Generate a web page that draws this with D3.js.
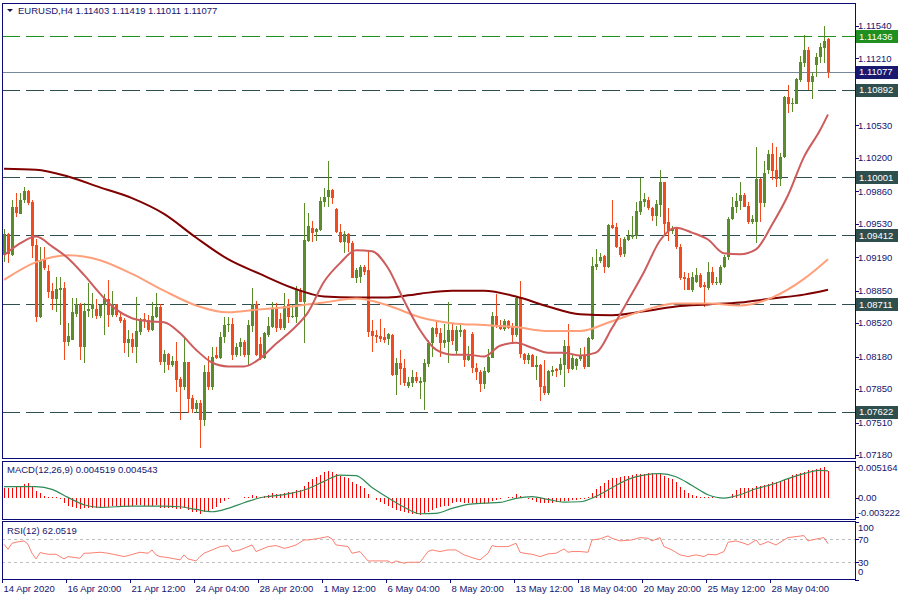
<!DOCTYPE html>
<html>
<head>
<meta charset="utf-8">
<script src="https://cdn.jsdelivr.net/npm/d3@7"></script>
<style>
  body { margin: 0; background: #fff; }
  svg { display: block; }
  text { font-family: "Liberation Sans", Arial, sans-serif; font-size: 9.5px; }
</style>
</head>
<body>
<svg id="chart" width="900" height="600"></svg>
<script>
// ---- data ----
const opens = [1.0921,1.0943,1.0921,1.0970,1.0963,1.0977,1.0986,1.0975,1.0931,1.0858,1.0916,1.0905,1.0885,1.0877,1.0886,1.0888,1.0833,1.0835,1.0861,1.0871,
1.0828,1.0864,1.0866,1.0866,1.0859,1.0870,1.0877,1.0860,1.0871,1.0858,1.0855,1.0832,1.0836,1.0828,1.0843,1.0856,1.0855,1.0845,1.0858,1.0868,
1.0813,1.0821,1.0809,1.0814,1.0795,1.0787,1.0813,1.0776,1.0765,1.0771,1.0754,1.0802,1.0787,1.0820,1.0817,1.0838,1.0850,1.0851,1.0820,1.0828,
1.0833,1.0820,1.0849,1.0871,1.0831,1.0817,1.0840,1.0848,1.0867,1.0856,1.0847,1.0871,1.0858,1.0858,1.0886,1.0874,1.0936,1.0949,1.0945,1.0947,
1.0975,1.0980,1.0987,1.0968,1.0945,1.0934,1.0943,1.0933,1.0898,1.0899,1.0909,1.0906,1.0844,1.0840,1.0839,1.0838,1.0836,1.0840,1.0799,1.0811,
1.0806,1.0788,1.0791,1.0797,1.0791,1.0792,1.0810,1.0832,1.0847,1.0842,1.0832,1.0833,1.0845,1.0824,1.0843,1.0845,1.0815,1.0841,1.0806,1.0802,
1.0790,1.0802,1.0817,1.0859,1.0850,1.0846,1.0854,1.0848,1.0840,1.0878,1.0821,1.0815,1.0820,1.0807,1.0809,1.0788,1.0781,1.0802,1.0805,1.0804,
1.0809,1.0829,1.0805,1.0808,1.0816,1.0819,1.0807,1.0836,1.0909,1.0915,1.0920,1.0909,1.0952,1.0950,1.0929,1.0922,1.0937,1.0940,1.0941,1.0965,
1.0975,1.0977,1.0969,1.0961,1.0972,1.0995,1.0955,1.0946,1.0948,1.0929,1.0899,1.0898,1.0886,1.0894,1.0901,1.0891,1.0888,1.0904,1.0893,1.0893,
1.0909,1.0919,1.0958,1.0970,1.0976,1.0982,1.0971,1.0955,1.0955,1.0998,1.0974,1.1008,1.1024,1.1008,1.0999,1.1021,1.1082,1.1075,1.1075,1.1099,
1.1116,1.1130,1.1097,1.1114,1.1122,1.1132,1.11403];
const highs = [1.0948,1.0944,1.0977,1.0984,1.0984,1.0990,1.0987,1.0977,1.0938,1.0929,1.0929,1.0911,1.0893,1.0899,1.0899,1.0894,1.0852,1.0878,1.0878,1.0872,
1.0872,1.0893,1.0883,1.0877,1.0871,1.0882,1.0896,1.0885,1.0871,1.0862,1.0857,1.0845,1.0842,1.0879,1.0857,1.0862,1.0860,1.0873,1.0883,1.0871,
1.0825,1.0822,1.0819,1.0833,1.0797,1.0838,1.0813,1.0779,1.0774,1.0774,1.0809,1.0819,1.0828,1.0828,1.0843,1.0858,1.0858,1.0857,1.0832,1.0837,
1.0835,1.0855,1.0888,1.0875,1.0838,1.0843,1.0858,1.0873,1.0872,1.0862,1.0883,1.0877,1.0870,1.0890,1.0888,1.0974,1.0964,1.0956,1.0949,1.0980,
1.0989,1.1017,1.0988,1.0969,1.0953,1.0946,1.0944,1.0935,1.0908,1.0911,1.0911,1.0924,1.0855,1.0845,1.0856,1.0847,1.0842,1.0841,1.0817,1.0825,
1.0816,1.0797,1.0804,1.0802,1.0797,1.0816,1.0835,1.0848,1.0855,1.0847,1.0851,1.0874,1.0852,1.0849,1.0850,1.0846,1.0829,1.0843,1.0811,1.0804,
1.0807,1.0826,1.0863,1.0882,1.0855,1.0856,1.0855,1.0852,1.0880,1.0895,1.0822,1.0822,1.0821,1.0819,1.0810,1.0815,1.0804,1.0808,1.0806,1.0817,
1.0835,1.0851,1.0821,1.0817,1.0827,1.0828,1.0838,1.0919,1.0927,1.0923,1.0921,1.0953,1.0977,1.0954,1.0939,1.0940,1.0947,1.0961,1.0975,1.1000,
1.0984,1.0980,1.0970,1.0977,1.1008,1.0995,1.0969,1.0951,1.0949,1.0932,1.0904,1.0903,1.0904,1.0908,1.0903,1.0894,1.0914,1.0909,1.0899,1.0911,
1.0921,1.0960,1.0980,1.0984,1.0995,1.0984,1.0975,1.0962,1.1031,1.1000,1.1017,1.1028,1.1035,1.1031,1.1025,1.1083,1.1094,1.1081,1.1101,1.1124,
1.1145,1.1133,1.1107,1.1127,1.1137,1.1154,1.11419];
const lows = [1.0914,1.0913,1.0920,1.0960,1.0963,1.0974,1.0972,1.0918,1.0853,1.0857,1.0906,1.0878,1.0865,1.0863,1.0850,1.0815,1.0829,1.0835,1.0858,1.0815,
1.0811,1.0858,1.0857,1.0856,1.0857,1.0840,1.0848,1.0858,1.0858,1.0852,1.0822,1.0818,1.0822,1.0812,1.0840,1.0847,1.0843,1.0844,1.0857,1.0809,
1.0801,1.0804,1.0807,1.0782,1.0754,1.0784,1.0761,1.0761,1.0761,1.0725,1.0747,1.0784,1.0784,1.0816,1.0816,1.0832,1.0843,1.0815,1.0818,1.0819,
1.0818,1.0809,1.0843,1.0819,1.0815,1.0816,1.0838,1.0847,1.0843,1.0845,1.0845,1.0852,1.0857,1.0852,1.0873,1.0832,1.0934,1.0934,1.0935,1.0946,
1.0970,1.0970,1.0973,1.0944,1.0933,1.0923,1.0924,1.0898,1.0893,1.0893,1.0901,1.0838,1.0823,1.0832,1.0833,1.0832,1.0830,1.0798,1.0779,1.0789,
1.0788,1.0786,1.0787,1.0791,1.0775,1.0764,1.0807,1.0818,1.0838,1.0818,1.0827,1.0812,1.0830,1.0821,1.0838,1.0807,1.0814,1.0801,1.0794,1.0782,
1.0785,1.0801,1.0817,1.0847,1.0845,1.0844,1.0846,1.0833,1.0838,1.0817,1.0810,1.0810,1.0807,1.0794,1.0773,1.0779,1.0779,1.0798,1.0797,1.0799,
1.0787,1.0801,1.0804,1.0804,1.0814,1.0805,1.0807,1.0835,1.0906,1.0913,1.0903,1.0908,1.0948,1.0928,1.0919,1.0919,1.0936,1.0938,1.0938,1.0962,
1.0970,1.0967,1.0956,1.0951,1.0960,1.0943,1.0936,1.0943,1.0927,1.0896,1.0886,1.0886,1.0884,1.0893,1.0888,1.0868,1.0886,1.0891,1.0891,1.0891,
1.0908,1.0916,1.0957,1.0964,1.0967,1.0970,1.0953,1.0953,1.0933,1.0955,1.0970,1.1004,1.0997,1.0990,1.0991,1.1020,1.1066,1.1067,1.1075,1.1097,
1.1112,1.1089,1.1080,1.1102,1.1116,1.1116,1.11011];
const closes = [1.0943,1.0922,1.0970,1.0964,1.0977,1.0986,1.0974,1.0930,1.0858,1.0916,1.0908,1.0884,1.0877,1.0887,1.0888,1.0833,1.0839,1.0863,1.0871,1.0828,
1.0864,1.0866,1.0871,1.0859,1.0870,1.0878,1.0860,1.0871,1.0860,1.0854,1.0832,1.0836,1.0828,1.0844,1.0856,1.0854,1.0845,1.0859,1.0868,1.0813,
1.0821,1.0809,1.0814,1.0794,1.0787,1.0813,1.0775,1.0765,1.0771,1.0754,1.0802,1.0787,1.0818,1.0817,1.0838,1.0850,1.0851,1.0820,1.0828,1.0833,
1.0820,1.0850,1.0871,1.0820,1.0817,1.0842,1.0849,1.0866,1.0847,1.0847,1.0869,1.0858,1.0859,1.0886,1.0874,1.0937,1.0951,1.0944,1.0948,1.0976,
1.0980,1.0987,1.0979,1.0945,1.0934,1.0943,1.0933,1.0898,1.0906,1.0909,1.0904,1.0843,1.0839,1.0838,1.0836,1.0835,1.0841,1.0799,1.0811,1.0805,
1.0791,1.0792,1.0797,1.0793,1.0793,1.0811,1.0832,1.0847,1.0841,1.0832,1.0835,1.0845,1.0834,1.0845,1.0845,1.0815,1.0819,1.0806,1.0802,1.0790,
1.0803,1.0818,1.0859,1.0849,1.0846,1.0854,1.0847,1.0840,1.0878,1.0821,1.0815,1.0820,1.0807,1.0809,1.0787,1.0781,1.0803,1.0804,1.0803,1.0810,
1.0829,1.0805,1.0817,1.0816,1.0819,1.0807,1.0837,1.0910,1.0912,1.0919,1.0909,1.0952,1.0949,1.0929,1.0921,1.0938,1.0941,1.0942,1.0966,1.0976,
1.0978,1.0969,1.0961,1.0973,1.0995,1.0953,1.0946,1.0948,1.0929,1.0898,1.0897,1.0886,1.0899,1.0901,1.0889,1.0889,1.0904,1.0893,1.0894,1.0909,
1.0919,1.0958,1.0970,1.0976,1.0982,1.0970,1.0955,1.0958,1.0998,1.0974,1.1005,1.1024,1.1007,1.0999,1.1021,1.1082,1.1075,1.1076,1.1100,1.1117,
1.1130,1.1097,1.1103,1.1122,1.1133,1.1139,1.11077];

// moving averages, [bar, price]
const maFast = [[0,1.0921],[4,1.0933],[8,1.0940],[12,1.0930],[16,1.0918],[20,1.0901],[24,1.0882],[28,1.0866],[32,1.0857],[36,1.0854],[40,1.0853],[44,1.0842],
[48,1.0825],[52,1.0812],[56,1.0808],[60,1.0808],[64,1.0816],[68,1.0831],[72,1.0845],[76,1.0863],[80,1.0894],[84,1.0913],[88,1.0926],[92,1.0925],[96,1.0908],
[100,1.0875],[104,1.0845],[108,1.0825],[112,1.0820],[116,1.0820],[120,1.0818],[124,1.0829],[128,1.0832],[132,1.0827],[136,1.0822],[140,1.0822],[144,1.0819],
[148,1.0822],[152,1.0847],[156,1.0875],[160,1.0904],[164,1.0936],[168,1.0949],[172,1.0944],[176,1.0937],[180,1.0923],[184,1.0922],[188,1.0927],[192,1.0952],
[196,1.0982],[200,1.1021],[204,1.1048],[206,1.1064]];
const maMid = [[0,1.0896],[8,1.0914],[16,1.0921],[24,1.0916],[32,1.0902],[40,1.0885],[48,1.0870],[56,1.0863],[64,1.0866],[72,1.0869],[80,1.0873],[88,1.0877],
[96,1.0870],[104,1.0858],[112,1.0852],[120,1.0850],[128,1.0848],[136,1.0844],[144,1.0844],[152,1.0854],[160,1.0865],[168,1.0872],[176,1.0872],[184,1.0870],
[192,1.0878],[200,1.0897],[206,1.0917]];
const maSlow = [[0,1.1009],[8,1.1008],[16,1.1001],[24,1.0990],[32,1.0979],[40,1.0963],[48,1.0939],[56,1.0917],[64,1.0902],[72,1.0888],[80,1.0879],[88,1.0878],
[96,1.0878],[104,1.0882],[112,1.0885],[120,1.0885],[128,1.0879],[136,1.0869],[144,1.0861],[152,1.0860],[160,1.0864],[168,1.0869],[176,1.0871],[184,1.0873],
[192,1.0877],[200,1.0881],[206,1.0886]];

const levelPrices = [1.11436, 1.10892, 1.10001, 1.09412, 1.08711, 1.07622];
const bidPrice = 1.11077;
const priceTicks = [1.11540,1.11210,1.10530,1.10200,1.09860,1.09530,1.09190,1.08850,1.08520,1.08180,1.07850,1.07510,1.07180];

// MACD(12,26,9): main histogram per bar, signal as [bar, value]
const macdMain = [0.00158,0.00158,0.00170,0.00181,0.00204,0.00226,0.00243,0.00187,0.00113,0.00074,0.00034,0.00017,0.00011,0.00006,-0.00028,-0.00096,-0.00136,-0.00153,-0.00170,-0.00192,
-0.00181,-0.00170,-0.00181,-0.00181,-0.00170,-0.00164,-0.00153,-0.00136,-0.00142,-0.00153,-0.00164,-0.00158,-0.00147,-0.00125,-0.00125,-0.00136,-0.00142,-0.00136,-0.00125,-0.00170,
-0.00170,-0.00181,-0.00181,-0.00192,-0.00198,-0.00181,-0.00215,-0.00238,-0.00249,-0.00283,-0.00238,-0.00238,-0.00192,-0.00153,-0.00096,-0.00057,-0.00023,-0.00011,-0.00006,0.00002,
0.00006,0.00011,0.00045,0.00034,0.00017,0.00034,0.00045,0.00074,0.00062,0.00062,0.00085,0.00091,0.00102,0.00125,0.00136,0.00204,0.00272,0.00317,0.00357,0.00385,
0.00430,0.00453,0.00441,0.00396,0.00374,0.00357,0.00328,0.00272,0.00226,0.00204,0.00158,0.00057,0.00000,-0.00040,-0.00068,-0.00113,-0.00136,-0.00181,-0.00209,-0.00226,
-0.00249,-0.00266,-0.00283,-0.00283,-0.00294,-0.00266,-0.00238,-0.00209,-0.00181,-0.00153,-0.00136,-0.00136,-0.00096,-0.00079,-0.00079,-0.00085,-0.00096,-0.00096,-0.00102,-0.00113,
-0.00113,-0.00091,-0.00057,-0.00040,-0.00017,-0.00002,0.00006,0.00011,0.00062,0.00023,0.00000,-0.00023,-0.00045,-0.00068,-0.00085,-0.00091,-0.00091,-0.00085,-0.00079,-0.00068,
-0.00051,-0.00051,-0.00045,-0.00040,-0.00028,-0.00017,0.00006,0.00074,0.00142,0.00198,0.00243,0.00300,0.00328,0.00340,0.00351,0.00362,0.00374,0.00385,0.00396,0.00402,
0.00408,0.00413,0.00413,0.00402,0.00396,0.00362,0.00328,0.00317,0.00260,0.00187,0.00130,0.00085,0.00045,0.00028,0.00006,0.00011,0.00011,0.00006,-0.00011,-0.00011,
-0.00006,0.00011,0.00057,0.00130,0.00158,0.00158,0.00158,0.00170,0.00192,0.00198,0.00215,0.00238,0.00272,0.00272,0.00283,0.00306,0.00340,0.00385,0.00396,0.00413,
0.00441,0.00470,0.00475,0.00487,0.00498,0.005164,0.004519];
const macdSignal = [[0,0.00187],[4,0.00187],[8,0.00187],[12,0.00142],[16,0.00006],[20,-0.00119],[24,-0.00164],[28,-0.00153],[32,-0.00142],[36,-0.00142],
[40,-0.00142],[44,-0.00153],[48,-0.00198],[52,-0.00238],[56,-0.00181],[60,-0.00085],[64,0],[68,0.00034],[72,0.00079],[76,0.00153],[80,0.00277],[84,0.00385],
[88,0.00374],[92,0.00175],[96,0],[100,-0.00158],[104,-0.00272],[108,-0.00266],[112,-0.00181],[116,-0.00113],[120,-0.00091],[124,-0.00079],[128,-0.00011],
[132,0.00017],[136,-0.00028],[140,-0.00074],[144,-0.00068],[148,0.00023],[152,0.00170],[156,0.00311],[160,0.00385],[164,0.00408],[168,0.00357],[172,0.00209],
[176,0.00051],[180,-0.00006],[184,0.00051],[188,0.00153],[192,0.00226],[196,0.00323],[200,0.00408],[204,0.00464],[206,0.004543]];
const macdTicks = [0.005164, 0, -0.003222];

// RSI(12), [bar, value]
const rsi = [[0,61.3],[1,52.6],[2,63.0],[3,64.8],[5,67.1],[6,61.3],[7,45.7],[8,35.8],[9,46.8],[11,43.9],[13,43.9],[15,35.8],[16,39.9],[19,37.0],[20,45.7],
[21,45.7],[24,47.4],[26,45.7],[30,39.9],[31,41.6],[34,47.4],[36,45.7],[37,51.4],[38,42.8],[39,39.9],[41,38.1],[44,34.1],[45,42.8],[46,35.8],[48,32.3],
[49,39.9],[50,45.7],[52,51.4],[54,57.2],[56,59.0],[57,48.6],[59,51.4],[61,57.2],[62,60.1],[63,48.6],[65,54.3],[66,57.2],[68,59.0],[70,54.3],[71,55.5],
[73,60.1],[75,68.8],[76,68.8],[78,70.6],[81,74.6],[82,70.6],[83,60.1],[86,57.2],[87,45.7],[89,48.6],[91,32.3],[93,32.3],[96,32.3],[97,28.3],[98,32.3],
[100,28.3],[101,30.0],[104,30.0],[106,48.6],[107,51.4],[109,48.6],[111,51.4],[113,51.4],[115,42.8],[117,38.1],[119,34.1],[121,45.7],[122,59.0],[123,57.2],
[126,57.2],[128,63.0],[129,47.4],[130,45.7],[132,43.9],[134,39.9],[136,44.5],[138,45.7],[140,53.2],[141,47.4],[142,48.6],[144,48.6],[146,47.4],[147,68.8],
[149,70.6],[151,75.8],[152,71.7],[154,67.1],[157,68.8],[159,72.9],[161,71.7],[162,67.1],[164,72.9],[165,57.2],[167,51.4],[169,42.8],[171,39.9],[173,42.8],
[175,39.9],[176,43.9],[178,42.8],[180,48.6],[181,64.8],[183,67.1],[185,63.0],[186,60.1],[188,68.8],[189,60.1],[191,65.9],[193,60.1],[195,68.8],[196,72.9],
[198,74.6],[200,76.4],[201,67.1],[202,68.8],[204,71.7],[205,72.9],[206,62.0519]];
const rsiLevels = [70, 30];
const rsiTicks = [100, 70, 30, 0];

const timeLabels = ["14 Apr 2020","16 Apr 20:00","21 Apr 12:00","24 Apr 04:00","28 Apr 20:00","1 May 12:00","6 May 04:00",
  "8 May 20:00","13 May 12:00","18 May 04:00","20 May 20:00","25 May 12:00","28 May 04:00"];
const timeLabelBars = [0,16,32,48,64,80,96,112,128,144,160,176,192];

// ---- styles ----
const frameColor = "#0b0b78";
const textColor = "#15156e";
const bullColor = "#5a8c2a";
const bearColor = "#f24a1c";
const levelColor = "#2f4f4f";
const topLevelColor = "#1f8f1f";

const svg = d3.select("#chart");

// panels: left, top, right, bottom
const mainP = { l: 2, t: 3, r: 855, b: 458 };
const macdP = { l: 2, t: 461, r: 855, b: 519 };
const rsiP  = { l: 2, t: 521, r: 855, b: 579 };

const x = d3.scaleLinear().domain([0, 206]).range([4, 828]);
const y = d3.scaleLinear().domain([1.07180, 1.11540]).range([455, 26]);
const yM = d3.scaleLinear().domain([-0.003222, 0.005164]).range([516.7, 467.3]);
const yR = d3.scaleLinear().domain([0, 100]).range([579.5, 522]);

const defs = svg.append("defs");
[["clipMain", mainP], ["clipMacd", macdP], ["clipRsi", rsiP]].forEach(([id, p]) => {
  defs.append("clipPath").attr("id", id).append("rect")
    .attr("x", p.l + 1).attr("y", p.t + 1).attr("width", p.r - p.l - 1).attr("height", p.b - p.t - 1);
});

// horizontal levels (behind everything)
const levelsG = svg.append("g").attr("clip-path", "url(#clipMain)").attr("shape-rendering", "crispEdges");
levelsG.selectAll("line").data(levelPrices).join("line")
  .attr("x1", mainP.l).attr("x2", mainP.r)
  .attr("y1", d => Math.round(y(d)) + 0.5).attr("y2", d => Math.round(y(d)) + 0.5)
  .attr("stroke", (d, i) => i === 0 ? topLevelColor : levelColor)
  .attr("stroke-dasharray", "18,6");
levelsG.append("line")
  .attr("x1", mainP.l).attr("x2", mainP.r)
  .attr("y1", Math.round(y(bidPrice)) + 0.5).attr("y2", Math.round(y(bidPrice)) + 0.5)
  .attr("stroke", "#778899");

// candles
const bars = d3.range(opens.length);
const candleG = svg.append("g").attr("clip-path", "url(#clipMain)").attr("shape-rendering", "crispEdges");
const col = i => closes[i] >= opens[i] ? bullColor : bearColor;
candleG.selectAll("line").data(bars).join("line")
  .attr("x1", i => Math.round(x(i)) + 0.5).attr("x2", i => Math.round(x(i)) + 0.5)
  .attr("y1", i => y(highs[i])).attr("y2", i => y(lows[i]))
  .attr("stroke", col);
candleG.selectAll("rect").data(bars).join("rect")
  .attr("x", i => Math.round(x(i)) - 1).attr("width", 3)
  .attr("y", i => y(Math.max(opens[i], closes[i])))
  .attr("height", i => Math.max(1, Math.abs(y(opens[i]) - y(closes[i]))))
  .attr("fill", col);

// moving averages
const maLine = d3.line().x(d => x(d[0])).y(d => y(d[1])).curve(d3.curveMonotoneX);
const maG = svg.append("g").attr("clip-path", "url(#clipMain)").attr("fill", "none").attr("stroke-width", 2);
maG.append("path").attr("d", maLine(maSlow)).attr("stroke", "#800000");
maG.append("path").attr("d", maLine(maMid)).attr("stroke", "#ffa07a");
maG.append("path").attr("d", maLine(maFast)).attr("stroke", "#cd5c5c");

// MACD
const macdG = svg.append("g").attr("clip-path", "url(#clipMacd)");
macdG.append("g").attr("shape-rendering", "crispEdges")
  .selectAll("line").data(bars).join("line")
  .attr("x1", i => Math.round(x(i)) + 0.5).attr("x2", i => Math.round(x(i)) + 0.5)
  .attr("y1", yM(0)).attr("y2", i => yM(macdMain[i]))
  .attr("stroke", "#ff0000");
macdG.append("path")
  .attr("d", d3.line().x(d => x(d[0])).y(d => yM(d[1])).curve(d3.curveMonotoneX)(macdSignal))
  .attr("fill", "none").attr("stroke", "#2e8b57").attr("stroke-width", 1.2);

// RSI
const rsiG = svg.append("g").attr("clip-path", "url(#clipRsi)");
rsiG.selectAll("line").data(rsiLevels).join("line")
  .attr("x1", rsiP.l).attr("x2", rsiP.r)
  .attr("y1", d => Math.round(yR(d)) + 0.5).attr("y2", d => Math.round(yR(d)) + 0.5)
  .attr("stroke", "#c0c0c0").attr("stroke-dasharray", "3,3").attr("shape-rendering", "crispEdges");
rsiG.append("path")
  .attr("d", d3.line().x(d => x(d[0])).y(d => yR(d[1]))(rsi))
  .attr("fill", "none").attr("stroke", "#fa8072").attr("stroke-width", 1);

// frames
const frameG = svg.append("g").attr("fill", "none").attr("stroke", frameColor).attr("shape-rendering", "crispEdges");
[mainP, macdP, rsiP].forEach(p => {
  frameG.append("rect").attr("x", p.l + 0.5).attr("y", p.t + 0.5)
    .attr("width", p.r - p.l).attr("height", p.b - p.t);
});

// right axes
function rightAxis(scale, ticks, fmt, panel, pad) {
  const g = svg.append("g");
  ticks.forEach(v => {
    const yy = Math.round(scale(v)) + 0.5;
    g.append("line").attr("x1", panel.r).attr("x2", panel.r + 4).attr("y1", yy).attr("y2", yy)
      .attr("stroke", frameColor).attr("shape-rendering", "crispEdges");
    const ty = Math.max(panel.t + pad, Math.min(panel.b - pad, scale(v)));
    const label = fmt(v);
    const t = g.append("text").attr("x", panel.r + 3).attr("y", ty).attr("dy", "0.35em")
      .attr("fill", textColor).text(label);
    // long labels are squeezed so they stay inside the window
    if (label.length > 8) t.attr("textLength", 42).attr("lengthAdjust", "spacingAndGlyphs");
  });
}
rightAxis(y, priceTicks, d => d.toFixed(5), mainP, 3);
rightAxis(yM, macdTicks, d => d === 0 ? "0.00" : d.toFixed(6), macdP, 6);
rightAxis(yR, rsiTicks, d => String(d), rsiP, 7);

// level price boxes
const boxG = svg.append("g");
const boxData = levelPrices.map((p, i) => ({ p, c: i === 0 ? topLevelColor : levelColor }))
  .concat([{ p: bidPrice, c: "#191970" }]);
boxG.selectAll("rect").data(boxData).join("rect")
  .attr("x", 856).attr("y", d => Math.round(y(d.p)) - 6).attr("width", 42).attr("height", 13)
  .attr("fill", d => d.c);
boxG.selectAll("text").data(boxData).join("text")
  .attr("x", 859).attr("y", d => y(d.p)).attr("dy", "0.37em")
  .attr("fill", "#fff").text(d => d.p.toFixed(5));

// time axis
const tG = svg.append("g");
timeLabelBars.forEach((b, k) => {
  const tx = Math.round(x(b)) - 1.5;
  tG.append("line").attr("x1", tx).attr("x2", tx).attr("y1", rsiP.b).attr("y2", rsiP.b + 4)
    .attr("stroke", frameColor).attr("shape-rendering", "crispEdges");
  tG.append("text").attr("x", tx + 1).attr("y", 592).attr("fill", textColor).text(timeLabels[k]);
});

// titles
svg.append("path").attr("d", "M7,9 L13,9 L10,12 Z").attr("fill", "#101050");
svg.append("text").attr("x", 18).attr("y", 14).attr("fill", textColor)
  .text("EURUSD,H4  1.11403 1.11419 1.11011 1.11077");
svg.append("text").attr("x", 7).attr("y", 473).attr("fill", textColor)
  .text("MACD(12,26,9) 0.004519 0.004543");
svg.append("text").attr("x", 7).attr("y", 534).attr("fill", textColor)
  .text("RSI(12) 62.0519");
</script>
</body>
</html>
